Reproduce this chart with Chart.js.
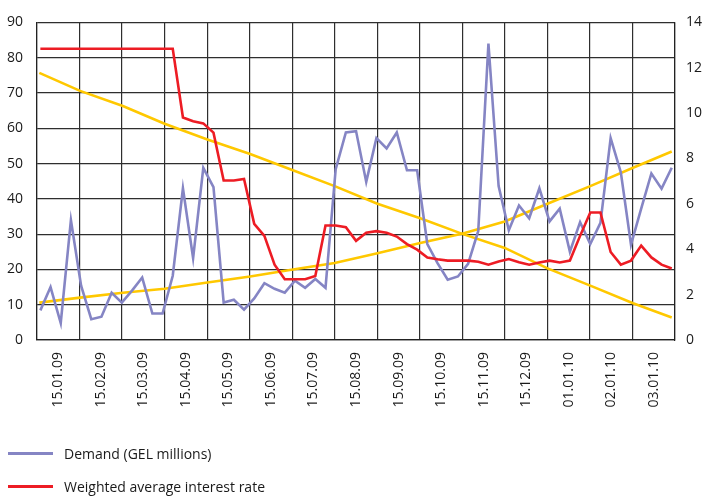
<!DOCTYPE html>
<html>
<head>
<meta charset="utf-8">
<script src="https://cdn.jsdelivr.net/npm/chart.js@4.4.1/dist/chart.umd.min.js"></script>
<style>
  body { margin: 0; background: #fff; }
  #wrap { position: relative; width: 702px; height: 497px; }
  .leg { position: absolute; left: 8px; font: 14px "Open Sans", sans-serif; color: #1a1a1a; display: flex; align-items: center; }
  .leg span { display: inline-block; width: 45px; height: 3px; margin-right: 11px; }
</style>
</head>
<body>
<div id="wrap">
  <canvas id="mixed-chart" width="702" height="497"></canvas>
  <div class="leg" style="top:444px"><span style="background:#8585c4"></span>Demand (GEL millions)</div>
  <div class="leg" style="top:477px"><span style="background:#ed1c24"></span>Weighted average interest rate</div>
</div>
<script>
// month tick labels
var months = ["15.01.09", "15.02.09", "15.03.09", "15.04.09", "15.05.09", "15.06.09", "15.07.09", "15.08.09",
              "15.09.09", "15.10.09", "15.11.09", "15.12.09", "01.01.10", "02.01.10", "03.01.10"];

// weekly demand, GEL millions (left axis)
var demand = [8.4, 15, 4.8, 34, 15.4, 5.9, 6.6, 13.4, 10.6, 14,
              17.7, 7.5, 7.5, 18.2, 43, 23.2, 48.8, 43.3, 10.6, 11.4,
              8.6, 11.8, 16.1, 14.5, 13.4, 16.8, 14.8, 17.3, 14.8, 48.4,
              58.8, 59.2, 44.8, 57.2, 54.3, 58.8, 48.1, 48.1, 27.2, 21.8,
              17.1, 18, 21.6, 30.9, 84, 43.6, 31.1, 38.1, 34.5, 43,
              33.6, 37.2, 25, 33.4, 27.2, 33.2, 57.2, 47.5, 27, 37.2,
              47.2, 42.9, 48.8];

// weekly weighted average interest rate, % (right axis)
var rate = [12.84, 12.84, 12.84, 12.84, 12.84, 12.84, 12.84, 12.84, 12.84, 12.84,
            12.84, 12.84, 12.84, 12.84, 9.81, 9.64, 9.55, 9.14, 7.03, 7.03,
            7.1, 5.12, 4.59, 3.32, 2.68, 2.68, 2.68, 2.82, 5.05, 5.05,
            4.97, 4.37, 4.73, 4.8, 4.73, 4.56, 4.23, 3.98, 3.64, 3.56,
            3.5, 3.5, 3.5, 3.45, 3.32, 3.46, 3.57, 3.43, 3.32, 3.42,
            3.5, 3.42, 3.5, 4.59, 5.62, 5.62, 3.88, 3.32, 3.5, 4.16,
            3.64, 3.32, 3.15];

// trend lines (yellow), read at the week positions below
var trendWeeks = [-0.1, 3.9, 8.1, 12.2, 16.4, 20.6, 24.8, 28.9, 33.1, 37.3, 41.5, 45.6, 49.8, 54.0, 58.2, 62];
var trendDown = [75.7, 70.6, 66.3, 61.3, 56.8, 52.7, 48.1, 43.6, 38.6, 34.5, 30.0, 26.1, 20.3, 15.4, 10.4, 6.4];
var trendUp = [10.6, 12.0, 13.4, 14.5, 16.3, 18.0, 20.0, 21.8, 24.6, 27.5, 30.2, 33.6, 38.6, 43.6, 48.8, 53.4];

function pts(xs, ys) {
    return ys.map(function(v, i) { return { x: xs ? xs[i] : i, y: v }; });
}

var tickFont = { family: "'Open Sans', sans-serif", size: 14 };

new Chart(document.getElementById("mixed-chart"),
{
    type: 'line',
    data:
    {
        datasets:
        [{
            label: "Weighted average interest rate",
            data: pts(null, rate),
            borderColor: "#ed1c24",
            borderWidth: 2.6,
            yAxisID: 'y1',
            xAxisID: 'x2'
        },
        {
            label: "Demand (GEL millions)",
            data: pts(null, demand),
            borderColor: "#8585c4",
            borderWidth: 2.6,
            yAxisID: 'y',
            xAxisID: 'x2'
        },
        {
            label: "trend 1",
            data: pts(trendWeeks, trendDown),
            borderColor: "#ffc800",
            borderWidth: 2.6,
            yAxisID: 'y',
            xAxisID: 'x2'
        },
        {
            label: "trend 2",
            data: pts(trendWeeks, trendUp),
            borderColor: "#ffc800",
            borderWidth: 2.6,
            yAxisID: 'y',
            xAxisID: 'x2'
        }]
    },
    options:
    {
        responsive: false,
        animation: false,
        elements: { point: { radius: 0 }, line: { tension: 0, fill: false } },
        layout: { padding: { top: 9, bottom: 85 } },
        plugins: { legend: { display: false }, tooltip: { enabled: false } },
        scales:
        {
            x:
            {
                type: 'category',
                labels: months,
                offset: true,
                grid: { offset: true, color: "#2e2e2e", lineWidth: 1.2, drawTicks: false },
                border: { color: "#222", width: 1.2 },
                ticks: { font: tickFont, color: "#1a1a1a", maxRotation: 90, minRotation: 90, padding: 12, autoSkip: false },
                afterFit: function(s) { s.height = 72; }
            },
            x2:
            {
                type: 'linear',
                display: false,
                min: -0.33,
                max: 62.32
            },
            y:
            {
                position: 'left',
                min: 0, max: 90,
                ticks: { stepSize: 10, font: tickFont, color: "#1a1a1a", padding: 14 },
                grid: { color: "#2e2e2e", lineWidth: 1.2, drawTicks: false },
                border: { color: "#222", width: 1.2 },
                afterFit: function(s) { s.width = 37; }
            },
            y1:
            {
                position: 'right',
                min: 0, max: 14,
                ticks: { stepSize: 2, font: tickFont, color: "#1a1a1a", padding: 11 },
                grid: { display: false, drawTicks: false },
                border: { color: "#222", width: 1.2 },
                afterFit: function(s) { s.width = 27; }
            }
        }
    }
});
</script>
</body>
</html>
